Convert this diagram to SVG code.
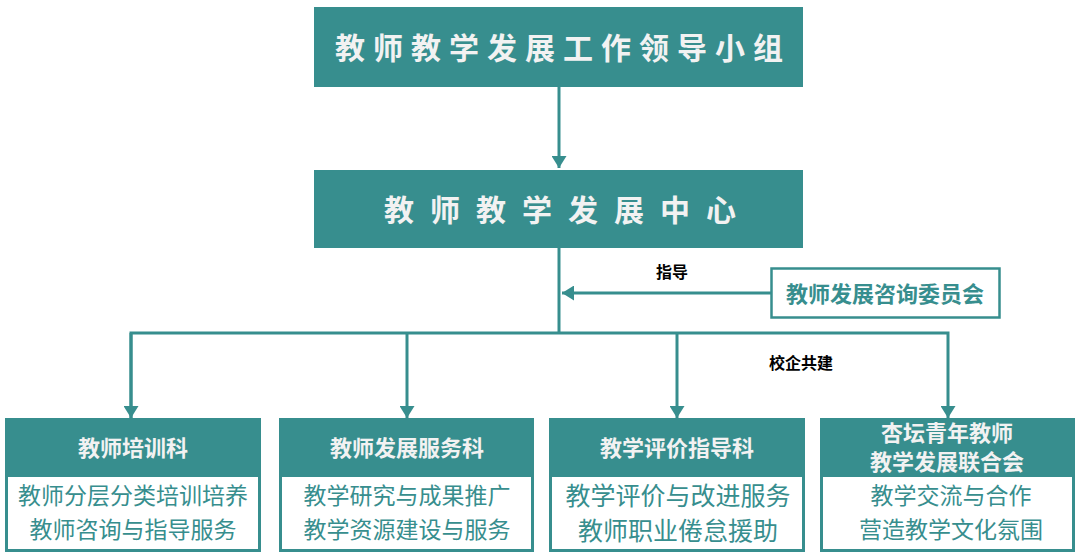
<svg xmlns="http://www.w3.org/2000/svg" width="1081" height="555" viewBox="0 0 1081 555">
<defs>
<style>
text{font-family:"Noto Sans CJK SC","Noto Sans",sans-serif;text-anchor:middle;}
.fill{fill:#378E8E;}
.title{fill:#F2F2F2;font-weight:bold;font-size:30px;}
.hdr{fill:#F2F2F2;font-weight:bold;font-size:22px;}
.body{fill:#378E8E;font-size:23px;}
.big{font-size:25px;}
.lbl{fill:#000;font-weight:bold;font-size:16px;}
.frame{fill:#fff;stroke:#378E8E;stroke-width:3;}
.line{fill:none;stroke:#378E8E;stroke-width:3;}
</style>
<marker id="arr" viewBox="0 0 10 10" refX="10" refY="5" markerWidth="4" markerHeight="5" orient="auto" markerUnits="strokeWidth" preserveAspectRatio="none">
<path d="M0,0 L10,5 L0,10 Z" fill="#378E8E"/>
</marker>
</defs>
<rect width="1081" height="555" fill="#fff"/>
<g id="connectors">
<line class="line" x1="559" y1="87" x2="559" y2="168" marker-end="url(#arr)"/>
<line class="line" x1="559" y1="248" x2="559" y2="333"/>
<line class="line" x1="771" y1="293" x2="562" y2="293" marker-end="url(#arr)"/>
<polyline class="line" points="131,418 131,333 948,333 948,418" marker-end="url(#arr)"/>
<line class="line" x1="131" y1="333" x2="131" y2="418" marker-end="url(#arr)"/>
<line class="line" x1="407" y1="333" x2="407" y2="418" marker-end="url(#arr)"/>
<line class="line" x1="677" y1="333" x2="677" y2="418" marker-end="url(#arr)"/>
<text class="lbl" x="672" y="278">指导</text>
<text class="lbl" x="801" y="369">校企共建</text>
</g>
<g id="leader">
<rect class="fill" x="314" y="7" width="489" height="80"/>
<text class="title" x="563" y="59" letter-spacing="8">教师教学发展工作领导小组</text>
</g>
<g id="center">
<rect class="fill" x="314" y="170" width="489" height="78"/>
<text class="title" x="568" y="221" letter-spacing="16">教师教学发展中心</text>
</g>
<g id="committee">
<rect x="771.5" y="268.5" width="228" height="49" fill="#fff" stroke="#378E8E" stroke-width="2.5"/>
<text x="885" y="302" font-size="22" font-weight="bold" fill="#378E8E">教师发展咨询委员会</text>
</g>
<g id="training">
<rect class="frame" x="6.5" y="419.5" width="253" height="131"/>
<rect class="fill" x="6" y="419" width="254" height="58"/>
<text class="hdr" x="133" y="456">教师培训科</text>
<text class="body" x="133" y="504">教师分层分类培训培养</text>
<text class="body" x="133" y="538">教师咨询与指导服务</text>
</g>
<g id="service">
<rect class="frame" x="280.5" y="419.5" width="252" height="131"/>
<rect class="fill" x="280" y="419" width="253" height="58"/>
<text class="hdr" x="407" y="456">教师发展服务科</text>
<text class="body" x="407" y="504">教学研究与成果推广</text>
<text class="body" x="407" y="538">教学资源建设与服务</text>
</g>
<g id="evaluation">
<rect class="frame" x="550.5" y="419.5" width="253" height="131"/>
<rect class="fill" x="550" y="419" width="254" height="58"/>
<text class="hdr" x="677" y="456">教学评价指导科</text>
<text class="body big" x="678" y="505">教学评价与改进服务</text>
<text class="body big" x="678" y="540">教师职业倦怠援助</text>
</g>
<g id="union">
<rect class="frame" x="821.5" y="419.5" width="252" height="131"/>
<rect class="fill" x="821" y="419" width="253" height="58"/>
<text class="hdr" x="947" y="441">杏坛青年教师</text>
<text class="hdr" x="947" y="470">教学发展联合会</text>
<text class="body" x="951" y="504">教学交流与合作</text>
<text class="body" x="951" y="538">营造教学文化氛围</text>
</g>
</svg>
